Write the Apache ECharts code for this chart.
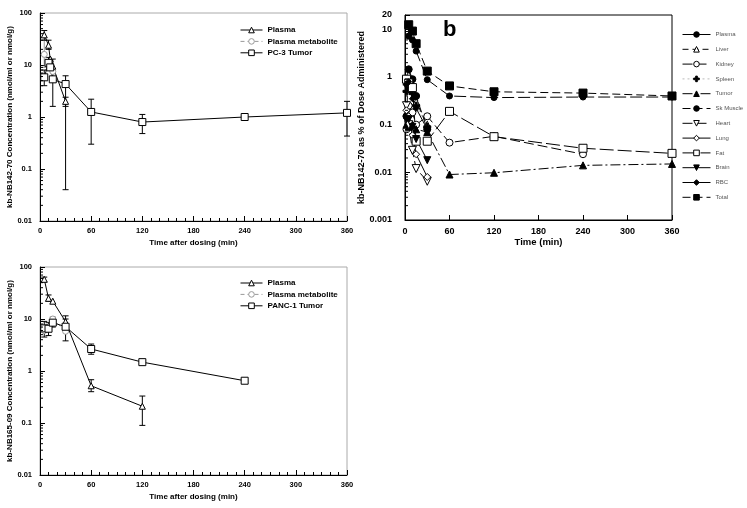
<!DOCTYPE html>
<html><head><meta charset="utf-8">
<script src="https://cdn.jsdelivr.net/npm/echarts@6/dist/echarts.min.js"></script>
<style>html,body{margin:0;padding:0;background:#fff}#c{width:747px;height:508px}</style>
</head><body><div id="c"></div>
<script>
// ---------- DATA ----------
const xTicks = [0, 60, 120, 180, 240, 300, 360];
const yTicksA = [0.01, 0.1, 1, 10, 100];
const yTicksB = [0.001, 0.01, 0.1, 1, 10, 20];

// Panel A (kb-NB142-70, PC-3)
const aPlasma = [[5, 38], [10, 24], [12, 13], [15, 9.5], [30, 2.0]];
const aMetab = [[5, 16], [10, 11], [15, 7.5]];
const aTumor = [[5, 5.8], [10, 11], [12, 9], [15, 5.3], [30, 4.3], [60, 1.25], [120, 0.8], [240, 1.0], [360, 1.2]];
const aPlasmaErr = [[5, 30, 46], [10, 20, 30], [30, 1.6, 2.4]];
const aMetabErr = [[5, 9, 30]];
const aTumorErr = [[5, 4.0, 8.0], [10, 8, 14], [15, 1.6, 13], [30, 0.04, 6.2], [60, 0.3, 2.2], [120, 0.48, 1.12], [360, 0.43, 2.0]];

// Panel C (kb-NB165-09, PANC-1)
const cPlasma = [[5, 58], [10, 25], [15, 22], [30, 8.9], [60, 0.52], [120, 0.21]];
const cMetab = [[5, 6], [10, 7], [15, 10], [30, 5.8]];
const cTumor = [[5, 6.6], [10, 6.5], [15, 8.5], [30, 7.1], [60, 2.65], [120, 1.48], [240, 0.65]];
const cPlasmaErr = [[5, 52, 64], [10, 22, 29], [30, 6, 11.5], [60, 0.4, 0.68], [120, 0.09, 0.33]];
const cMetabErr = [[15, 8, 11]];
const cTumorErr = [[5, 4.5, 9], [10, 4.8, 8.5], [15, 7, 10.5], [30, 3.8, 10], [60, 2.1, 3.3], [120, 1.35, 1.6]];

// Panel B (% of dose)
const bPlasma = [[5, 7.2], [10, 6.0], [15, 3.5], [30, 0.88], [60, 0.40], [120, 0.37], [240, 0.38], [360, 0.38]];
const bLiver = [[2, 0.8], [5, 1.1], [10, 0.7], [15, 0.3], [30, 0.1]];
const bKidney = [[2, 0.08], [5, 0.25], [10, 0.18], [15, 0.1], [30, 0.15], [60, 0.042], [120, 0.057], [240, 0.024]];
const bSpleen = [[2, 0.5], [5, 0.7], [10, 0.45], [15, 0.25], [30, 0.09]];
const bTumor = [[2, 0.1], [5, 0.09], [10, 0.1], [15, 0.08], [30, 0.07], [60, 0.009], [120, 0.0098], [240, 0.014], [360, 0.015]];
const bSkMuscle = [[2, 0.15], [5, 1.45], [10, 0.9], [15, 0.4], [30, 0.08]];
const bHeart = [[2, 0.25], [5, 0.1], [10, 0.029], [15, 0.012], [30, 0.0065]];
const bLung = [[2, 0.2], [5, 0.15], [10, 0.06], [15, 0.024], [30, 0.008]];
const bFat = [[2, 0.9], [5, 0.75], [10, 0.6], [15, 0.045], [30, 0.045], [60, 0.19], [120, 0.056], [240, 0.032], [360, 0.025]];
const bBrain = [[2, 0.13], [5, 0.13], [10, 0.09], [15, 0.05], [30, 0.018]];
const bRBC = [[2, 0.7], [5, 0.8], [10, 0.35], [15, 0.22], [30, 0.08]];
const bTotal = [[5, 12.5], [10, 9.2], [15, 5.0], [30, 1.33], [60, 0.65], [120, 0.49], [240, 0.46], [360, 0.40]];
const bNames = ['Plasma', 'Liver', 'Kidney', 'Spleen', 'Tumor', 'Sk Muscle', 'Heart', 'Lung', 'Fat', 'Brain', 'RBC', 'Total'];
const bData = [bPlasma, bLiver, bKidney, bSpleen, bTumor, bSkMuscle, bHeart, bLung, bFat, bBrain, bRBC, bTotal];

// ---------- STYLE ----------
const FF = 'Liberation Sans, Arial, sans-serif';
const DOWN_TRI = 'path://M0,0 L10,0 L5,9 Z';
const PLUS = 'path://M3.5,0 H6.5 V3.5 H10 V6.5 H6.5 V10 H3.5 V6.5 H0 V3.5 H3.5 Z';
const bStyles = [
  {sym: 'circle', fill: '#000', dash: [12, 4], size: 6},
  {sym: 'triangle', fill: '#fff', dash: [6, 4], size: 7},
  {sym: 'circle', fill: '#fff', dash: [10, 4], size: 7},
  {sym: PLUS, fill: '#000', dash: [2, 3], size: 7, lc: '#bbb'},
  {sym: 'triangle', fill: '#000', dash: [10, 3, 2, 3], size: 7},
  {sym: 'circle', fill: '#000', dash: [8, 4], size: 7},
  {sym: DOWN_TRI, fill: '#fff', dash: [10, 4], size: 8},
  {sym: 'diamond', fill: '#fff', dash: 'solid', size: 7},
  {sym: 'rect', fill: '#fff', dash: [14, 4], size: 8},
  {sym: DOWN_TRI, fill: '#000', dash: 'solid', size: 7},
  {sym: 'diamond', fill: '#000', dash: 'solid', size: 6},
  {sym: 'rect', fill: '#000', dash: [8, 4], size: 8}
];

function fmtLog(v) { return String(+(+v).toPrecision(2)); }

function minorVals(lo, hi) {
  const out = [];
  for (let d = Math.floor(Math.log10(lo)); d <= Math.ceil(Math.log10(hi)); d++) {
    for (let k = 2; k <= 9; k++) {
      const v = k * Math.pow(10, d);
      if (v > lo && v < hi) out.push([0, v]);
    }
  }
  return out;
}
function minorTickSeries(xi, yi, lo, hi) {
  return {
    type: 'custom', xAxisIndex: xi, yAxisIndex: yi, silent: true, z: 5,
    data: minorVals(lo, hi), encode: {x: 0, y: 1},
    renderItem: function (params, api) {
      const p = api.coord([api.value(0), api.value(1)]);
      return {type: 'line', shape: {x1: p[0], y1: p[1], x2: p[0] + 3, y2: p[1]}, style: {stroke: '#000', lineWidth: 1}};
    }
  };
}
function errSeries(xi, yi, data, color) {
  return {
    type: 'custom', xAxisIndex: xi, yAxisIndex: yi, silent: true, z: 1,
    data: data, encode: {x: 0, y: [1, 2]},
    renderItem: function (params, api) {
      const x = api.value(0);
      const p1 = api.coord([x, api.value(1)]), p2 = api.coord([x, api.value(2)]);
      const w = 3;
      const st = {stroke: color, lineWidth: 1};
      return {type: 'group', children: [
        {type: 'line', shape: {x1: p1[0], y1: p1[1], x2: p2[0], y2: p2[1]}, style: st},
        {type: 'line', shape: {x1: p1[0] - w, y1: p1[1], x2: p1[0] + w, y2: p1[1]}, style: st},
        {type: 'line', shape: {x1: p2[0] - w, y1: p2[1], x2: p2[0] + w, y2: p2[1]}, style: st}
      ]};
    }
  };
}
function lineS(name, xi, yi, data, sym, fill, color, dash, size) {
  return {
    type: 'line', name: name, xAxisIndex: xi, yAxisIndex: yi, data: data, z: 3,
    symbol: sym, symbolSize: size, showSymbol: true, animation: false,
    lineStyle: {color: color, width: 1, type: dash},
    itemStyle: {color: fill, borderColor: color, borderWidth: 1}
  };
}
function xAxisCfg(gi, name, gap, fs, margin, minor) {
  return {
    type: 'value', gridIndex: gi, min: 0, max: 360, interval: 60,
    name: name, nameLocation: 'middle', nameGap: gap,
    nameTextStyle: {fontFamily: FF, fontWeight: 'bold', fontSize: fs + 0.5, color: '#000'},
    axisLine: {lineStyle: {color: '#000', width: 1}},
    axisTick: {inside: true, length: 5, lineStyle: {color: '#000'}},
    minorTick: {show: minor, splitNumber: 6, length: 3, lineStyle: {color: '#000'}},
    splitLine: {show: false},
    axisLabel: {fontFamily: FF, fontWeight: 'bold', fontSize: fs, color: '#000', margin: margin}
  };
}
function yAxisCfg(gi, lo, hi, name, gap, fs, nfs, margin) {
  return {
    type: 'log', logBase: 10, gridIndex: gi, min: lo, max: hi,
    name: name, nameLocation: 'middle', nameGap: gap,
    nameTextStyle: {fontFamily: FF, fontWeight: 'bold', fontSize: nfs, color: '#000'},
    axisLine: {show: true, lineStyle: {color: '#000', width: 1}},
    axisTick: {inside: true, length: 5, lineStyle: {color: '#000'}},
    splitLine: {show: false},
    axisLabel: {fontFamily: FF, fontWeight: 'bold', fontSize: fs, color: '#000', margin: margin, formatter: fmtLog}
  };
}

const series = [
  // Panel A
  errSeries(0, 0, aMetabErr, '#999'),
  errSeries(0, 0, aPlasmaErr, '#000'),
  errSeries(0, 0, aTumorErr, '#000'),
  lineS('Plasma metabolite', 0, 0, aMetab, 'circle', '#fff', '#999', [4, 3], 6),
  lineS('Plasma', 0, 0, aPlasma, 'triangle', '#fff', '#000', 'solid', 6),
  lineS('PC-3 Tumor', 0, 0, aTumor, 'rect', '#fff', '#000', 'solid', 7),
  minorTickSeries(0, 0, 0.01, 100),
  // Panel C
  errSeries(2, 2, cMetabErr, '#999'),
  errSeries(2, 2, cPlasmaErr, '#000'),
  errSeries(2, 2, cTumorErr, '#000'),
  lineS('Plasma metabolite', 2, 2, cMetab, 'circle', '#fff', '#999', [4, 3], 6),
  lineS('Plasma', 2, 2, cPlasma, 'triangle', '#fff', '#000', 'solid', 6),
  lineS('PANC-1 Tumor', 2, 2, cTumor, 'rect', '#fff', '#000', 'solid', 7),
  minorTickSeries(2, 2, 0.01, 100),
  // Panel B
  minorTickSeries(1, 1, 0.001, 20)
];
bNames.forEach(function (n, i) {
  const s = bStyles[i];
  const ser = lineS('B_' + n, 1, 1, bData[i], s.sym, s.fill, '#000', s.dash, s.size);
  if (s.lc) ser.lineStyle.color = s.lc;
  series.push(ser);
});

const legendText = {fontFamily: FF, fontWeight: 'bold', fontSize: 8, color: '#000'};
const legLine = {width: 1};
const legItem = {borderWidth: 1};
const option = {
  animation: false,
  backgroundColor: '#fff',
  grid: [
    {left: 40, top: 13, width: 307, height: 208, show: true, borderColor: '#aaa', borderWidth: 1},
    {left: 405, top: 15, width: 267, height: 205, show: true, borderColor: '#000', borderWidth: 1},
    {left: 40, top: 267, width: 307, height: 208, show: true, borderColor: '#aaa', borderWidth: 1}
  ],
  xAxis: [
    xAxisCfg(0, 'Time after dosing (min)', 18, 7.5, 6, true),
    xAxisCfg(1, 'Time (min)', 13, 9, 7, false),
    xAxisCfg(2, 'Time after dosing (min)', 18, 7.5, 6, true)
  ],
  yAxis: [
    yAxisCfg(0, 0.01, 100, 'kb-NB142-70 Concentration (nmol/ml or nmol/g)', 22, 7.5, 8, 8),
    yAxisCfg(1, 0.001, 20, 'kb-NB142-70 as % of Dose Administered', 27, 9, 9, 13),
    yAxisCfg(2, 0.01, 100, 'kb-NB165-09 Concentration (nmol/ml or nmol/g)', 22, 7.5, 8, 8)
  ],
  legend: [
    {left: 235, top: 21, orient: 'vertical', itemWidth: 22, itemHeight: 7, itemGap: 3.4,
     lineStyle: legLine, itemStyle: legItem,
     textStyle: legendText, data: ['Plasma', 'Plasma metabolite', 'PC-3 Tumor']},
    {left: 235, top: 274, orient: 'vertical', itemWidth: 22, itemHeight: 7, itemGap: 3.4,
     lineStyle: legLine, itemStyle: legItem,
     textStyle: legendText, data: ['Plasma', 'Plasma metabolite', 'PANC-1 Tumor']},
    {left: 677, top: 26, orient: 'vertical', itemWidth: 28, itemHeight: 7, itemGap: 7.8,
     lineStyle: legLine, itemStyle: legItem,
     textStyle: {fontFamily: FF, fontSize: 6, color: '#555', lineHeight: 7},
     formatter: function (n) { return n.replace('B_', ''); },
     data: bNames.map(function (n) { return 'B_' + n; })}
  ],
  graphic: [
    {type: 'text', left: 443, top: 19, style: {text: 'b', font: 'bold 22px ' + FF, fill: '#000'}}
  ],
  series: series
};
const chart = echarts.init(document.getElementById('c'), null, {renderer: 'canvas'});
chart.setOption(option);
</script></body></html>
